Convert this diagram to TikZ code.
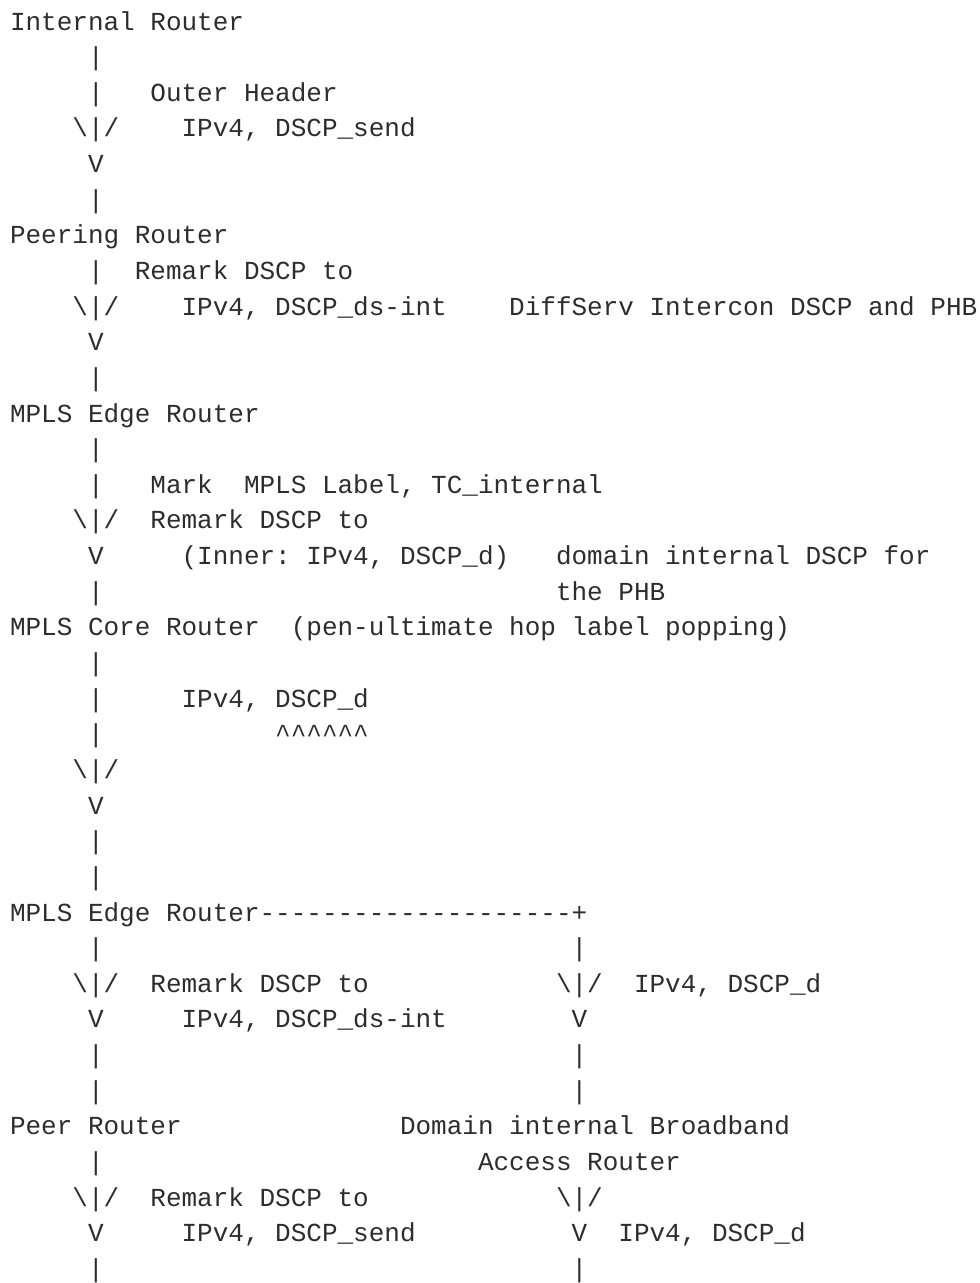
\documentclass[tikz,border=0pt]{standalone}
\usepackage{fontspec}
\setmonofont{Liberation Mono}
\definecolor{ink}{RGB}{45,45,45}
\tikzset{
  txt/.style={anchor=base west, inner sep=0pt, outer sep=0pt, text=ink,
    font=\ttfamily\fontsize{26}{31}\selectfont}
}
\newcommand\seg[4]{\node[txt] (#1) at ({10+#3*15.6},{30+#2*35.64}) {#4};}
\newcommand\bs{\textbackslash}
\begin{document}
\begin{tikzpicture}[x=1pt,y=-1pt]
\useasboundingbox[fill=white] (0,0) rectangle (980,1283);
\seg{r0a}{0}{0}{Internal Router}
\seg{r1a}{1}{5}{|}
\seg{r2a}{2}{5}{|}
\seg{r2b}{2}{9}{Outer Header}
\seg{r3a}{3}{4}{\bs|/}
\seg{r3b}{3}{11}{IPv4, DSCP\_send}
\seg{r4a}{4}{5}{V}
\seg{r5a}{5}{5}{|}
\seg{r6a}{6}{0}{Peering Router}
\seg{r7a}{7}{5}{|}
\seg{r7b}{7}{8}{Remark DSCP to}
\seg{r8a}{8}{4}{\bs|/}
\seg{r8b}{8}{11}{IPv4, DSCP\_ds-int}
\seg{r8c}{8}{32}{DiffServ Intercon DSCP and PHB}
\seg{r9a}{9}{5}{V}
\seg{r10a}{10}{5}{|}
\seg{r11a}{11}{0}{MPLS Edge Router}
\seg{r12a}{12}{5}{|}
\seg{r13a}{13}{5}{|}
\seg{r13b}{13}{9}{Mark}
\seg{r13c}{13}{15}{MPLS Label, TC\_internal}
\seg{r14a}{14}{4}{\bs|/}
\seg{r14b}{14}{9}{Remark DSCP to}
\seg{r15a}{15}{5}{V}
\seg{r15b}{15}{11}{(Inner: IPv4, DSCP\_d)}
\seg{r15c}{15}{35}{domain internal DSCP for}
\seg{r16a}{16}{5}{|}
\seg{r16b}{16}{35}{the PHB}
\seg{r17a}{17}{0}{MPLS Core Router}
\seg{r17b}{17}{18}{(pen-ultimate hop label popping)}
\seg{r18a}{18}{5}{|}
\seg{r19a}{19}{5}{|}
\seg{r19b}{19}{11}{IPv4, DSCP\_d}
\seg{r20a}{20}{5}{|}
\seg{r20b}{20}{17}{\textasciicircum\textasciicircum\textasciicircum\textasciicircum\textasciicircum\textasciicircum}
\seg{r21a}{21}{4}{\bs|/}
\seg{r22a}{22}{5}{V}
\seg{r23a}{23}{5}{|}
\seg{r24a}{24}{5}{|}
\seg{r25a}{25}{0}{MPLS Edge Router}
\seg{r25b}{25}{16}{-{}-{}-{}-{}-{}-{}-{}-{}-{}-{}-{}-{}-{}-{}-{}-{}-{}-{}-{}-{}+}
\seg{r26a}{26}{5}{|}
\seg{r26b}{26}{36}{|}
\seg{r27a}{27}{4}{\bs|/}
\seg{r27b}{27}{9}{Remark DSCP to}
\seg{r27c}{27}{35}{\bs|/}
\seg{r27d}{27}{40}{IPv4, DSCP\_d}
\seg{r28a}{28}{5}{V}
\seg{r28b}{28}{11}{IPv4, DSCP\_ds-int}
\seg{r28c}{28}{36}{V}
\seg{r29a}{29}{5}{|}
\seg{r29b}{29}{36}{|}
\seg{r30a}{30}{5}{|}
\seg{r30b}{30}{36}{|}
\seg{r31a}{31}{0}{Peer Router}
\seg{r31b}{31}{25}{Domain internal Broadband}
\seg{r32a}{32}{5}{|}
\seg{r32b}{32}{30}{Access Router}
\seg{r33a}{33}{4}{\bs|/}
\seg{r33b}{33}{9}{Remark DSCP to}
\seg{r33c}{33}{35}{\bs|/}
\seg{r34a}{34}{5}{V}
\seg{r34b}{34}{11}{IPv4, DSCP\_send}
\seg{r34c}{34}{36}{V}
\seg{r34d}{34}{39}{IPv4, DSCP\_d}
\seg{r35a}{35}{5}{|}
\seg{r35b}{35}{36}{|}
\end{tikzpicture}
\end{document}
